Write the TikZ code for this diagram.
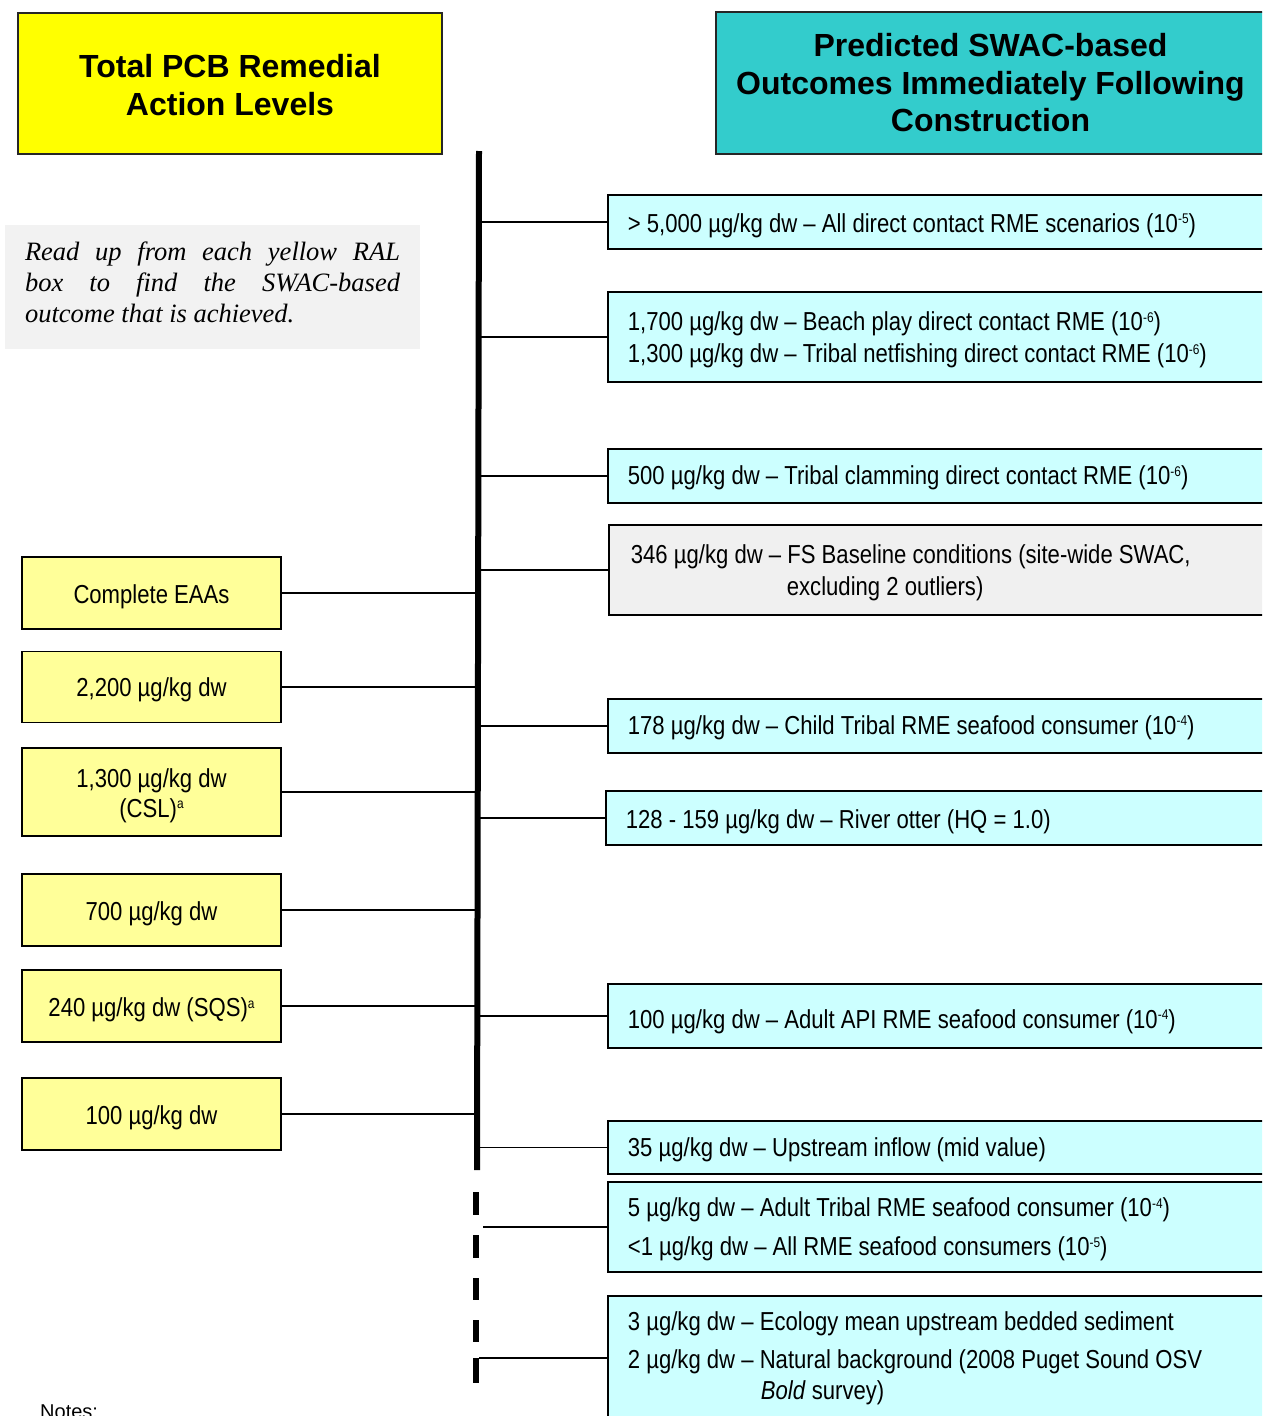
\documentclass[tikz,border=0pt]{standalone}
\usepackage{fontspec}
\setmainfont{Liberation Sans}
\newfontfamily\bodyfont[FakeStretch=0.85]{Liberation Sans}
\newfontfamily\headfont{Liberation Sans}
\newfontfamily\notefont{Liberation Serif}
\newcommand\bodyf{\bodyfont\fontsize{26}{32}\selectfont}
\newcommand\headf{\headfont\bfseries\fontsize{32}{38}\selectfont}
\newcommand\notef{\notefont\itshape\fontsize{26.5}{31}\selectfont}
\newcommand\sups[1]{\raisebox{8.5pt}{\fontsize{14}{14}\selectfont #1}}
\newcommand\sd[1]{\rule{0pt}{\dimexpr 19pt+#1pt+#1pt\relax}}
\definecolor{hyellow}{HTML}{FFFF00}
\definecolor{lyellow}{HTML}{FFFF99}
\definecolor{hteal}{HTML}{33CCCC}
\definecolor{lcyan}{HTML}{CCFFFF}
\definecolor{lgray}{HTML}{F2F2F2}
\definecolor{bgray}{HTML}{F0F0F0}
\begin{document}
\begin{tikzpicture}[x=1pt,y=-1pt,
  rbox/.style={draw=black, line width=1.8pt, fill=lcyan, anchor=north west,
    text width=628pt, inner xsep=20pt, inner ysep=0pt, align=flush left, font=\bodyf},
  lbox/.style={draw=black, line width=1.8pt, fill=lyellow, minimum width=259pt,
    minimum height=72pt, align=center, inner sep=0pt, font=\bodyf},
  hbox/.style={draw=black!85, line width=1.8pt, align=center, inner sep=0pt, font=\headf},
  conn/.style={draw=black, line width=1.8pt},
  axisline/.style={draw=black, line width=6pt}
]
\clip (0,0) rectangle (1262,1416);
\fill[white] (0,0) rectangle (1262,1416);

% headers
\node[hbox, fill=hyellow, minimum width=424pt, minimum height=141pt] (hleft) at (230,83.5)
  {\rule{0pt}{27pt}Total PCB Remedial\\Action Levels};
\node[hbox, fill=hteal, minimum width=549pt, minimum height=142pt,
  font=\headfont\bfseries\fontsize{32}{37.5}\selectfont] (hright) at (990.5,83)
  {Predicted SWAC-based\\Outcomes Immediately Following\\Construction};

% note
\node[fill=lgray, minimum width=415pt, minimum height=124pt, inner sep=0pt, align=left, font=\notef] (note) at (212.5,287)
  {\makebox[375pt][s]{Read up from each yellow RAL}\\
   \makebox[375pt][s]{box to find the SWAC-based}\\
   outcome that is achieved.\rule[-10pt]{0pt}{0pt}};

% axis
\coordinate (axtop) at (479,151);
\coordinate (axbot) at (477,1170);
\draw[axisline] (axtop) -- (axbot);
\foreach \a/\b in {1192/1215,1235/1258,1278/1300,1320/1342,1358/1383}
  \draw[axisline] (476,\a) -- (476,\b);

% right boxes
\node[rbox, minimum height=54pt] (r1) at (607,194)
  {\sd{3.5}> 5,000 µg/kg dw – All direct contact RME scenarios (10\sups{-5})};
\node[rbox, minimum height=90pt] (r2) at (607,291)
  {\sd{3}1,700 µg/kg dw – Beach play direct contact RME (10\sups{-6})\\
   1,300 µg/kg dw – Tribal netfishing direct contact RME (10\sups{-6})};
\node[rbox, minimum height=54pt] (r3) at (607,448)
  {\sd{2}500 µg/kg dw – Tribal clamming direct contact RME (10\sups{-6})};
\node[rbox, fill=bgray, minimum height=90pt, inner xsep=22pt, text width=624pt] (r4) at (608,524)
  {\sd{2.5}346 µg/kg dw – FS Baseline conditions (site-wide SWAC,\\
   \hspace*{156pt}excluding 2 outliers)};
\node[rbox, minimum height=54pt] (r5) at (607,698)
  {\sd{1.5}178 µg/kg dw – Child Tribal RME seafood consumer (10\sups{-4})};
\node[rbox, minimum height=54pt] (r6) at (605,790)
  {\sd{3.5}128 - 159 µg/kg dw – River otter (HQ = 1.0)};
\node[rbox, minimum height=64pt] (r7) at (607,983)
  {\sd{5.5}100 µg/kg dw – Adult API RME seafood consumer (10\sups{-4})};
\node[rbox, minimum height=53pt] (r8) at (607,1120)
  {\sd{2}35 µg/kg dw – Upstream inflow (mid value)};
\node[rbox, minimum height=90pt] (r9) at (607,1181)
  {\sd{2.5}5 µg/kg dw – Adult Tribal RME seafood consumer (10\sups{-4})\\[7pt]
   <1 µg/kg dw – All RME seafood consumers (10\sups{-5})};
\node[rbox, minimum height=124pt] (r10) at (607,1295)
  {3 µg/kg dw – Ecology mean upstream bedded sediment\\[6pt]
   2 µg/kg dw – Natural background (2008 Puget Sound OSV\\[-1pt]
   \hspace*{133pt}\textit{Bold} survey)};

% left boxes
\node[lbox] (l1) at (151.5,593) {\sd{4}Complete EAAs};
\node[lbox, minimum height=71pt] (l2) at (151.5,687) {\sd{3}2,200 µg/kg dw};
\node[lbox, minimum height=88pt] (l3) at (151.5,792) {\sd{3.5}1,300 µg/kg dw\\[-2pt](CSL)\sups{a}};
\node[lbox] (l4) at (151.5,910) {\sd{4}700 µg/kg dw};
\node[lbox] (l5) at (151.5,1006) {\sd{4}240 µg/kg dw (SQS)\sups{a}};
\node[lbox] (l6) at (151.5,1114) {\sd{4}100 µg/kg dw};

% connectors right
\foreach \n in {r1,r2,r3,r4,r5,r6,r7,r8,r10}
  \draw[conn] (\n.west) -- (\n.west -| axtop);
\draw[conn] (r9.west) -- ++(-124,0);
% connectors left
\foreach \n in {l1,l2,l3,l4,l5,l6}
  \draw[conn] (\n.east) -- (\n.east -| axbot);

% notes
\node[anchor=base west, inner sep=0pt, font=\headfont\fontsize{20}{24}\selectfont] (notes) at (40,1418) {Notes:};
\end{tikzpicture}
\end{document}
